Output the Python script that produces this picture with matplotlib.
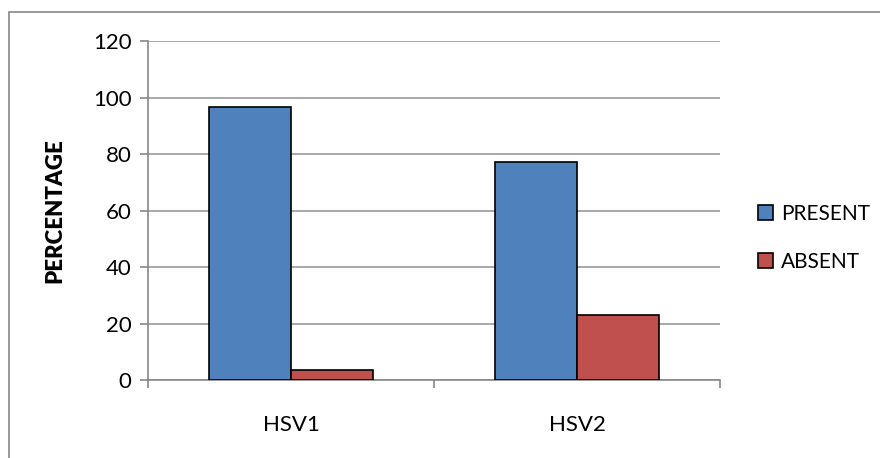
import matplotlib.pyplot as plt
import numpy as np
from matplotlib.patches import Rectangle

# data
categories = ['HSV1', 'HSV2']
present = [96.5, 77]
absent = [3.5, 23]
series_names = ['PRESENT', 'ABSENT']
yticks = [0, 20, 40, 60, 80, 100, 120]

plt.rcParams['font.family'] = ['Lato', 'DejaVu Sans']

fig = plt.figure(figsize=(8.8, 4.58), dpi=100)
ax = fig.add_axes([148 / 880, 1 - 380 / 458, 572 / 880, 339 / 458])

# outer chart frame (runs off the right and bottom edge like the original)
fig.patches.append(Rectangle((9 / 880, -0.1), 1.0, 1 - 12 / 458 + 0.1,
                             transform=fig.transFigure, fill=False,
                             edgecolor='#888888', linewidth=1.2, zorder=0))

x = np.arange(len(categories))
w = 0.285
ax.bar(x - w / 2, present, w, color='#4F81BD', edgecolor='black', linewidth=1.2,
       label=series_names[0], zorder=3)
ax.bar(x + w / 2, absent, w, color='#C0504D', edgecolor='black', linewidth=1.2,
       label=series_names[1], zorder=3)

ax.set_xlim(-0.5, len(categories) - 0.5)
ax.set_ylim(0, 120)
ax.set_yticks(yticks)
ax.yaxis.grid(True, color='#999999', linewidth=1.2, zorder=0)
ax.set_axisbelow(True)

# x ticks on category boundaries, labels centred
ax.set_xticks([-0.5, 0.5, 1.5])
ax.set_xticklabels([])
ax.set_xticks(x, minor=True)
ax.set_xticklabels(categories, minor=True, fontsize=16)
ax.tick_params(axis='x', which='major', length=6, color='#888888', width=1.2)
ax.tick_params(axis='x', which='minor', length=0, pad=25)
ax.tick_params(axis='y', length=6, color='#888888', width=1.2, labelsize=16, pad=6)

for s in ['top', 'right']:
    ax.spines[s].set_visible(False)
for s in ['left', 'bottom']:
    ax.spines[s].set_color('#888888')
    ax.spines[s].set_linewidth(1.2)

ax.set_ylabel('PERCENTAGE', fontsize=16, fontweight='heavy', labelpad=20)

ax.legend(loc='center left', bbox_to_anchor=(1.066, 0.42), frameon=False,
          borderpad=0, borderaxespad=0,
          fontsize=15, handlelength=0.75, handleheight=0.75, handletextpad=0.35,
          labelspacing=1.35)

fig.savefig('out.png', dpi=100)
